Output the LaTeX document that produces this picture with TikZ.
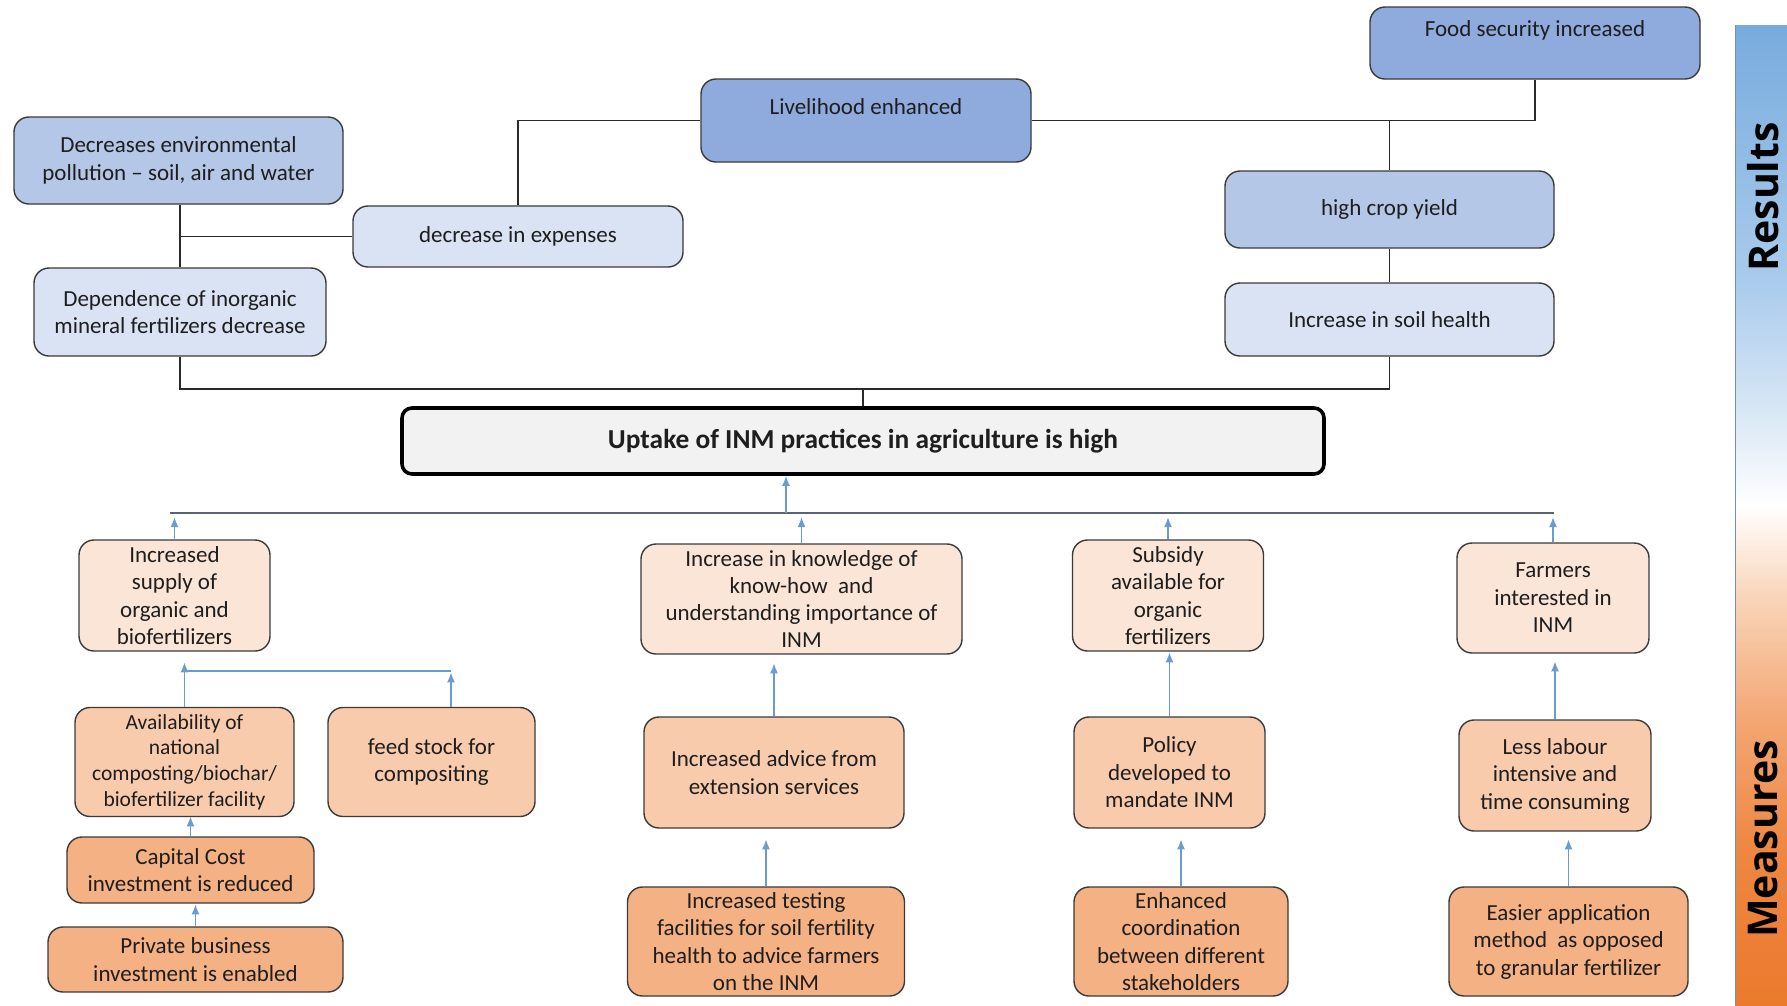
\documentclass[tikz,border=0pt]{standalone}
\usepackage{fontspec}
\setmainfont{Carlito}
\newfontfamily\sidefont{Open Sans}
\usetikzlibrary{arrows.meta}

% box fills
\definecolor{bluedark}{HTML}{8FAADC}
\definecolor{bluemid}{HTML}{B4C7E7}
\definecolor{bluelight}{HTML}{DAE3F3}
\definecolor{orlight}{HTML}{FBE5D6}
\definecolor{ormid}{HTML}{F8CBAD}
\definecolor{ordark}{HTML}{F4B183}
\definecolor{centralfill}{HTML}{F2F2F2}
% strokes and text
\definecolor{boxline}{HTML}{3A3A3A}
\definecolor{linkc}{HTML}{2A2A2A}
\definecolor{arrowblue}{HTML}{6C9BD2}
\definecolor{busc}{HTML}{5A6470}
\definecolor{txt}{HTML}{1E1E1E}
\definecolor{barline}{HTML}{6F8FB8}
% side bar gradient stops
\definecolor{sbB1}{HTML}{78ABDD}
\definecolor{sbB2}{HTML}{A9CBEC}
\definecolor{sbB3}{HTML}{DCE9F6}
\definecolor{sbO1}{HTML}{F9D4B8}
\definecolor{sbO2}{HTML}{F3A673}
\definecolor{sbO3}{HTML}{EE8741}
\definecolor{sbO4}{HTML}{EB7A2D}

\pgfdeclareverticalshading{sidebarshade}{100bp}{%
  color(0bp)=(sbO4); color(25bp)=(sbO4); color(32.9bp)=(sbO3);
  color(39.5bp)=(sbO2); color(45.7bp)=(sbO1); color(50.5bp)=(white);
  color(54.8bp)=(sbB3); color(62bp)=(sbB2); color(75bp)=(sbB1);
  color(100bp)=(sbB1)}

\tikzset{
  box/.style={draw=boxline, line width=1.4pt, rounded corners=15pt,
    inner sep=0pt, align=center, text=txt,
    font=\fontsize{23}{27.5}\selectfont},
  wh/.style 2 args={minimum width=#1pt, minimum height=#2pt},
  raised/.style={text height=16pt, text depth=29pt},
  central/.style={draw=black, line width=3.6pt, rounded corners=10pt,
    fill=centralfill, inner sep=0pt, text=txt,
    font=\bfseries\fontsize{27.4}{31}\selectfont},
  link/.style={draw=linkc, line width=1.6pt},
  flow/.style={draw=arrowblue, line width=1.6pt},
  arr/.style={flow, -{Latex[length=10pt,width=8pt]}},
  bus/.style={draw=busc, line width=1.8pt},
  sidetext/.style={rotate=90, inner sep=0pt, text=black,
    font=\sidefont\bfseries\fontsize{41}{41}\selectfont},
}

\begin{document}
\begin{tikzpicture}[x=1pt,y=-1pt]
\useasboundingbox (0,0) rectangle (1787,1005);

% ---- side bar: Results (top) to Measures (bottom)
\shade[shading=sidebarshade] (1735,25) rectangle (1787,1005);
\draw[barline, line width=1pt] (1735,25) -- (1735,1005);
\node[sidetext] (results) at (1763,197) {Results};
\node[sidetext] (measures) at (1763,839) {Measures};

% ---- results
\node[box, fill=bluedark, wh={330}{72}, raised] (food) at (1535,43) {Food security increased};
\node[box, fill=bluedark, wh={330}{83}, raised] (live) at (866,120.5) {Livelihood enhanced};
\node[box, fill=bluemid, wh={329}{87}] (env) at (178.5,160.5) {Decreases environmental\\pollution -- soil, air and water};
\node[box, fill=bluelight, wh={330}{61}] (exp) at (518,236.5) {decrease in expenses};
\node[box, fill=bluelight, wh={292}{88}] (dep) at (180,312) {Dependence of inorganic\\mineral fertilizers decrease};
\node[box, fill=bluemid, wh={329}{77}] (crop) at (1389.5,209.5) {high crop yield};
\node[box, fill=bluelight, wh={329}{73}] (soil) at (1389.5,319.5) {Increase in soil health};

% ---- central outcome
\node[central, minimum width=922pt, minimum height=66pt] (uptake) at (863,441) {Uptake of INM practices in agriculture is high};

% ---- measures, first row
\node[box, fill=orlight, wh={191}{111}] (supply) at (174.5,595.5) {Increased\\supply of\\organic and\\biofertilizers};
\node[box, fill=orlight, wh={321}{110}, font=\fontsize{23}{26.7}\selectfont] (know) at (801.5,599) {Increase in knowledge of\\know-how\ \ and\\understanding importance of\\INM};
\node[box, fill=orlight, wh={191}{111}] (subsidy) at (1168,595.5) {Subsidy\\available for\\organic\\fertilizers};
\node[box, fill=orlight, wh={192}{110}] (farmers) at (1553,598) {Farmers\\interested in\\INM};

% ---- measures, second row
\node[box, fill=ormid, wh={219}{109}, font=\fontsize{21.5}{25.7}\selectfont] (avail) at (184.5,762) {Availability of\\national\\composting/biochar/\\biofertilizer facility};
\node[box, fill=ormid, wh={207}{109}] (feed) at (431.5,762) {feed stock for\\compositing};
\node[box, fill=ormid, wh={260}{111}] (advice) at (774,772.5) {Increased advice from\\extension services};
\node[box, fill=ormid, wh={191}{111}] (policy) at (1169.5,772.5) {Policy\\developed to\\mandate INM};
\node[box, fill=ormid, wh={192}{111}] (labour) at (1555,775.5) {Less labour\\intensive and\\time consuming};

% ---- measures, third row
\node[box, fill=ordark, wh={247}{66}] (capital) at (190.5,870) {Capital Cost\\investment is reduced};
\node[box, fill=ordark, wh={295}{65}] (private) at (195.5,959.5) {Private business\\investment is enabled};
\node[box, fill=ordark, wh={277}{109}] (testing) at (766,941.5) {Increased testing\\facilities for soil fertility\\health to advice farmers\\on the INM};
\node[box, fill=ordark, wh={214}{109}] (enhanced) at (1181,941.5) {Enhanced\\coordination\\between different\\stakeholders};
\node[box, fill=ordark, wh={239}{109}] (easier) at (1568.5,941.5) {Easier application\\method\ \ as opposed\\to granular fertilizer};

% ---- result links
\draw[link] (live.west) -| (exp.north);
\draw[link] (live.east) -| (food.south);
\draw[link] (live.east -| crop.north) -- (crop.north);
\draw[link] (crop.south) -- (soil.north);
\draw[link] (dep.north |- env.south) -- (dep.north);
\draw[link] (exp.west) -- (exp.west -| dep.north);
\coordinate (topbus) at (0,389);
\draw[link] (dep.south) -- (dep.south |- topbus) -- (soil.south |- topbus) -- (soil.south);
\draw[link] (uptake.north |- topbus) -- (uptake.north);

% ---- measures bus into the central outcome
\coordinate (busL) at (170,513);
\coordinate (busR) at (1554,513);
\coordinate (busUp) at (786,513);
\coordinate (tipY) at (0,517);
\draw[bus] (busL) -- (busR);
\draw[arr] (busUp) -- (busUp |- uptake.south);
\draw[arr] (supply.north) -- (supply.north |- tipY);
\draw[arr] (know.north) -- (know.north |- tipY);
\draw[arr] (subsidy.north) -- (subsidy.north |- tipY);
\draw[arr] (farmers.north) -- (farmers.north |- tipY);

% ---- second row into first row
\coordinate (jL) at (185,671);
\coordinate (jR) at (451,671);
\draw[flow] (jL) -- (jR);
\draw[arr] (avail.north) -- ++(0,-44.5);
\draw[arr] (feed.north -| jR) -- ++(0,-34.5);
\draw[arr] (advice.north) -- ++(0,-53);
\draw[arr] (policy.north) -- ++(0,-64);
\draw[arr] (labour.north) -- ++(0,-58);

% ---- third row into second row
\draw[arr] (capital.north) -- ++(0,-20);
\draw[arr] (private.north) -- ++(0,-22);
\draw[arr] (testing.north) -- ++(0,-47);
\draw[arr] (enhanced.north) -- ++(0,-47);
\draw[arr] (easier.north) -- ++(0,-47);
\end{tikzpicture}
\end{document}
